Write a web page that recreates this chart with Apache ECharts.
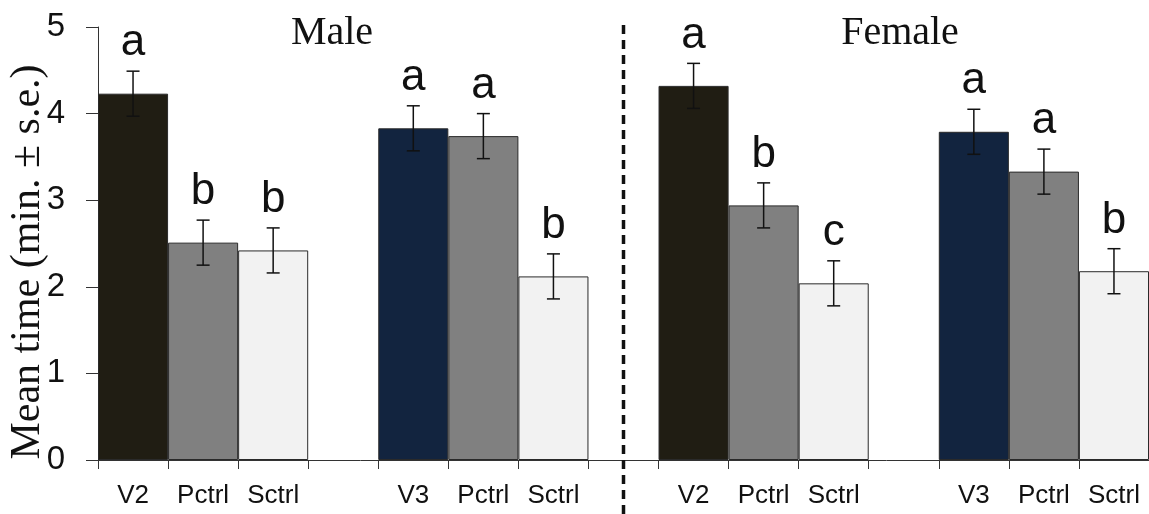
<!DOCTYPE html>
<html>
<head>
<meta charset="utf-8">
<script src="https://cdn.jsdelivr.net/npm/echarts@6/dist/echarts.min.js"></script>
<style>
  html, body { margin: 0; padding: 0; background: #ffffff; }
  #chart { width: 1149px; height: 514px; }
</style>
</head>
<body>
<div id="chart"></div>
<script>
// Treatment order along the x axis; empty strings are spacer slots between groups
const categories = ['V2', 'Pctrl', 'Sctrl', '', 'V3', 'Pctrl', 'Sctrl', '',
                    'V2', 'Pctrl', 'Sctrl', '', 'V3', 'Pctrl', 'Sctrl'];
// Mean time (min.) per treatment
const means = [4.23, 2.51, 2.42, null, 3.83, 3.74, 2.12, null,
               4.32, 2.94, 2.04, null, 3.79, 3.33, 2.18];
// Standard error per treatment
const errors = [0.26, 0.26, 0.26, null, 0.26, 0.26, 0.26, null,
                0.26, 0.26, 0.26, null, 0.26, 0.26, 0.26];
// Significance letters shown above each error bar
const letters = ['a', 'b', 'b', '', 'a', 'a', 'b', '',
                 'a', 'b', 'c', '', 'a', 'a', 'b'];
const panelTitles = ['Male', 'Female'];
const yTicks = [0, 1, 2, 3, 4, 5];

const fillFor = { V2: '#201d13', V3: '#12243f', Pctrl: '#808080', Sctrl: '#f2f2f2' };
const narrow = "'Liberation Sans Narrow', 'Arial Narrow', 'Liberation Sans', Arial, sans-serif";

const chart = echarts.init(document.getElementById('chart'), null, { renderer: 'canvas' });

const barData = means.map((v, i) => v == null ? '-' : {
  value: v,
  itemStyle: { color: fillFor[categories[i]] }
});
const errData = [];
means.forEach((v, i) => { if (v != null) errData.push([i, v, errors[i]]); });

chart.setOption({
  animation: false,
  backgroundColor: '#ffffff',
  grid: { left: 98, right: 0, top: 27, bottom: 54, containLabel: false },
  xAxis: {
    type: 'category',
    data: categories,
    boundaryGap: true,
    axisLine: { show: true, lineStyle: { color: '#333', width: 1 } },
    axisTick: { show: true, interval: 0, alignWithLabel: false, length: 9, lineStyle: { color: '#333', width: 1 } },
    axisLabel: { interval: 0, margin: 23, fontSize: 26, fontFamily: narrow, color: '#111' }
  },
  yAxis: {
    type: 'value',
    min: yTicks[0],
    max: yTicks[yTicks.length - 1],
    interval: 1,
    splitLine: { show: false },
    axisLine: { show: true, lineStyle: { color: '#333', width: 1 } },
    axisTick: { show: true, inside: false, length: 12, lineStyle: { color: '#333', width: 1 } },
    axisLabel: { margin: 33, fontSize: 33, fontFamily: narrow, color: '#111' }
  },
  series: [
    {
      type: 'bar',
      data: barData,
      barWidth: '100%',
      barCategoryGap: 0,
      itemStyle: { borderColor: '#2a2a2a', borderWidth: 1 }
    },
    {
      type: 'custom',
      data: errData,
      z: 5,
      renderItem: function (params, api) {
        const i = api.value(0);
        const m = api.value(1);
        const e = api.value(2);
        const top = api.coord([i, m + e]);
        const bot = api.coord([i, m - e]);
        const half = 6.5;
        const st = { stroke: '#111', lineWidth: 1.5 };
        return {
          type: 'group',
          children: [
            { type: 'line', shape: { x1: top[0], y1: top[1], x2: bot[0], y2: bot[1] }, style: st },
            { type: 'line', shape: { x1: top[0] - half, y1: top[1], x2: top[0] + half, y2: top[1] }, style: st },
            { type: 'line', shape: { x1: bot[0] - half, y1: bot[1], x2: bot[0] + half, y2: bot[1] }, style: st },
            {
              type: 'text',
              x: top[0],
              y: top[1] - 28,
              style: {
                text: letters[i],
                fill: '#111',
                font: "44px 'Liberation Sans', Arial, sans-serif",
                align: 'center',
                verticalAlign: 'middle'
              }
            }
          ]
        };
      }
    }
  ]
});

// Divider between the two panels, at the centre of the spacer slot
const dividerX = chart.convertToPixel({ xAxisIndex: 0 }, 7);

chart.setOption({
  graphic: [
    {
      type: 'line',
      shape: { x1: dividerX, y1: 25, x2: dividerX, y2: 514 },
      style: { stroke: '#111', lineWidth: 3.5, lineDash: [9, 6] },
      z: 10
    },
    {
      type: 'text',
      x: 332, y: 33,
      style: { text: panelTitles[0], font: "40px 'Liberation Serif', 'Times New Roman', serif", fill: '#111', align: 'center', verticalAlign: 'middle' }
    },
    {
      type: 'text',
      x: 900, y: 33,
      style: { text: panelTitles[1], font: "40px 'Liberation Serif', 'Times New Roman', serif", fill: '#111', align: 'center', verticalAlign: 'middle' }
    },
    {
      type: 'text',
      x: 28, y: 262,
      rotation: Math.PI / 2,
      style: { text: 'Mean time (min. ± s.e.)', font: "42px 'Liberation Serif', 'Times New Roman', serif", fill: '#111', align: 'center', verticalAlign: 'middle' }
    }
  ]
});
</script>
</body>
</html>
